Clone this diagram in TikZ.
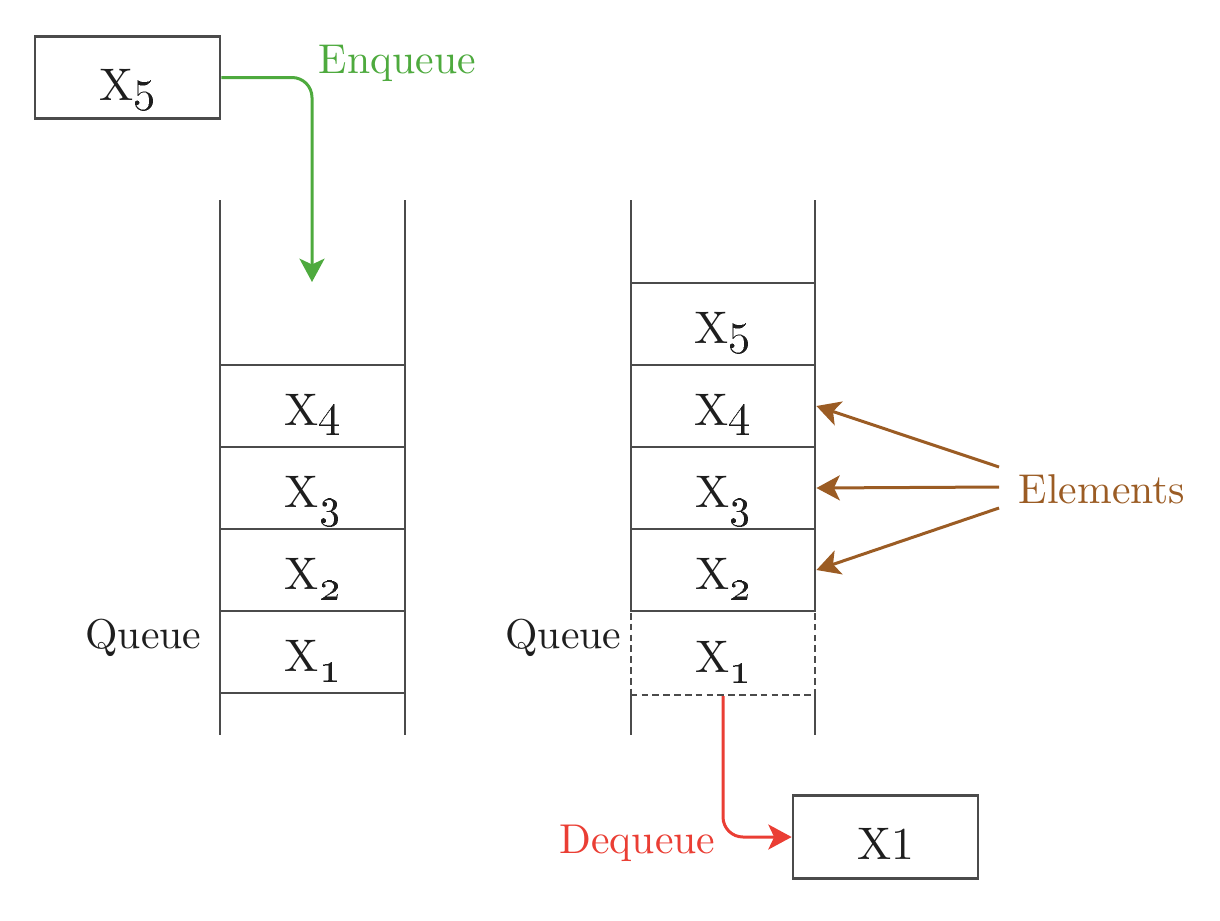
\documentclass[tikz,border=0pt]{standalone}
\usepackage{graphicx}
\usetikzlibrary{arrows.meta}
\definecolor{enqgreen}{RGB}{78,170,62}
\definecolor{deqred}{RGB}{234,62,52}
\definecolor{elbrown}{RGB}{155,92,36}
\definecolor{linegray}{RGB}{75,75,75}
\definecolor{txtgray}{RGB}{30,30,30}
\newcommand{\xn}[1]{X\oldstylenums{#1}}
\newcommand{\xsub}[1]{X\raisebox{-2.6pt}{\fontsize{10}{11}\selectfont\oldstylenums{#1}}}
\begin{document}
\begin{tikzpicture}[x=0.24pt,y=-0.24pt,
  stk/.style={draw=linegray,line width=0.55pt},
  cell/.style={draw=linegray,line width=0.55pt,minimum width=44.3pt,minimum height=19.68pt,
    inner sep=0pt,text height=9.12pt,text depth=0pt,text=txtgray,
    font=\fontsize{10.95}{13}\selectfont},
  dcell/.style={cell,minimum height=20.16pt,dash pattern=on 1.6pt off 1pt},
  itembox/.style={draw=linegray,line width=0.65pt,minimum width=44.4pt,minimum height=19.8pt,
    inner sep=0pt,text height=10.9pt,text depth=0pt,text=txtgray,
    font=\fontsize{10.95}{13}\selectfont},
  lbl/.style={inner sep=0pt,font=\fontsize{10}{12}\selectfont},
  arr/.style={line width=0.72pt,-{Stealth[length=5.6pt,width=6pt,inset=1.4pt]}}
]
\useasboundingbox (0,0) rectangle (1220,920);

% ---- top-left item and enqueue
\node[itembox] (x5) at (127.5,77.5) {\xn{5}};
\coordinate (enq) at (312,282);
\node[lbl,anchor=base west,text=enqgreen] (enqlbl) at (318,73) {Enqueue};
\draw[arr,enqgreen,rounded corners=4.8pt] (x5.east) -| (enq);

% ---- left queue
\draw[stk] (220,200) -- (220,735);
\draw[stk] (405,200) -- (405,735);
\node[cell] (l4) at (312.5,406) {\xn{4}};
\node[cell] (l3) at (312.5,488) {\xsub{3}};
\node[cell] (l2) at (312.5,570) {\xsub{2}};
\node[cell] (l1) at (312.5,652) {\xsub{1}};
\node[lbl,anchor=base east,text=txtgray] (q1) at (202,648) {Queue};

% ---- right queue
\draw[stk] (631,200) -- (631,611);
\draw[stk] (631,695) -- (631,735);
\draw[stk] (815,200) -- (815,611);
\draw[stk] (815,695) -- (815,735);
\node[cell] (r5) at (723,324) {\xn{5}};
\node[cell] (r4) at (723,406) {\xn{4}};
\node[cell] (r3) at (723,488) {\xsub{3}};
\node[cell] (r2) at (723,570) {\xsub{2}};
\node[dcell] (r1) at (723,653) {\xsub{1}};
\node[lbl,anchor=base east,text=txtgray] (q2) at (622,648) {Queue};

% ---- elements
\node[lbl,anchor=base west,text=elbrown] (el) at (1018,503) {Elements};
\coordinate (e1) at (999,467);
\coordinate (e2) at (999,487);
\coordinate (e3) at (999,508);
\draw[arr,elbrown] (e1) -- (r4.east);
\draw[arr,elbrown] (e2) -- (r3.east);
\draw[arr,elbrown] (e3) -- (r2.east);

% ---- dequeue
\node[itembox] (b1) at (885.5,837) {X1};
\node[lbl,anchor=base east,text=deqred] (deqlbl) at (716,853) {Dequeue};
\draw[arr,deqred,rounded corners=4.8pt] (r1.south) |- (b1.west);
\end{tikzpicture}
\end{document}
